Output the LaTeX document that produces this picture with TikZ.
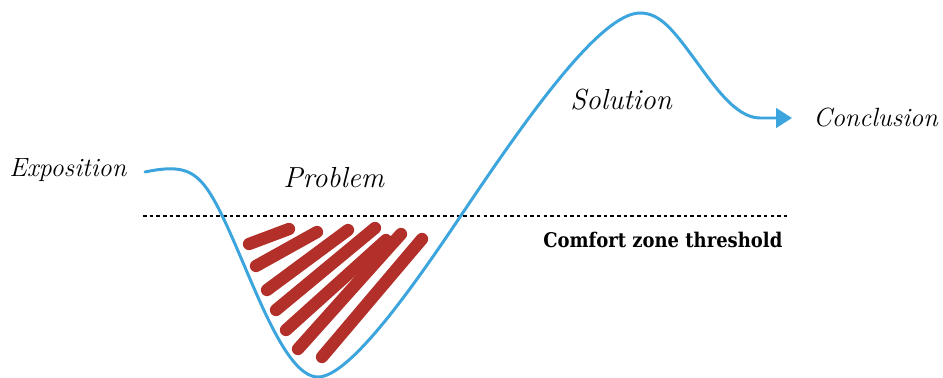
\documentclass[tikz,border=0pt]{standalone}
\usepackage{fontspec}
\newfontfamily\slabfont{DejaVu Serif}
\usetikzlibrary{arrows.meta}
\definecolor{curveblue}{HTML}{3DA5DD}
\definecolor{crayonred}{HTML}{B3302A}

\begin{document}
\begin{tikzpicture}[x=0.02cm,y=-0.02cm,
  hand/.style={font=\fontsize{15}{18}\selectfont\itshape,inner sep=0pt},
  curve/.style={draw=curveblue,line width=1.7pt,line cap=round,-{Triangle[length=9pt,width=11pt]}},
  hatch/.style={draw=crayonred,line width=7pt,line cap=round},
  threshold/.style={black,line width=0.9pt,dash pattern=on 2pt off 1.8pt}]
\useasboundingbox (0,0) rectangle (943,378);
\node[hand,anchor=base west] (expo) at (9,177) {Exposition};
\node[hand,anchor=base west,font=\fontsize{16.5}{18}\selectfont\itshape] (prob) at (283,188) {Problem};
\node[hand,anchor=base west,font=\fontsize{16.5}{18}\selectfont\itshape] (sol) at (570,110) {Solution};
\node[hand,anchor=base west] (concl) at (813,127) {Conclusion};
\node[anchor=base west,inner sep=0pt,font=\slabfont\bfseries\fontsize{11.5}{14}\selectfont] (comfort) at (543,248) {\scalebox{0.89}[1]{Comfort zone threshold}};
\coordinate (start) at (145,172);
\coordinate (tip) at (792,118);
\coordinate (zonel) at (143,216);
\coordinate (zoner) at (790,216);
\draw[threshold] (zonel) -- (zoner);
\draw[hatch] (249,244) -- (289,229);
\draw[hatch] (256,266) -- (317,232);
\draw[hatch] (267,290) -- (348,230);
\draw[hatch] (276,310) -- (375,228);
\draw[hatch] (286,330) -- (386,240);
\draw[hatch] (298,349) -- (401,234);
\draw[hatch] (322,357) -- (422,239);
\draw[curve] (start) .. controls (183,164) and (197,170) .. (214,200)
  .. controls (245,255) and (280,377) .. (318,377)
  .. controls (350,377) and (415,284) .. (460,217)
  .. controls (525,120) and (600,13) .. (640,13)
  .. controls (660,13) and (673,30) .. (693,57)
  .. controls (713,84) and (735,118) .. (760,118) -- (tip);
\end{tikzpicture}
\end{document}
